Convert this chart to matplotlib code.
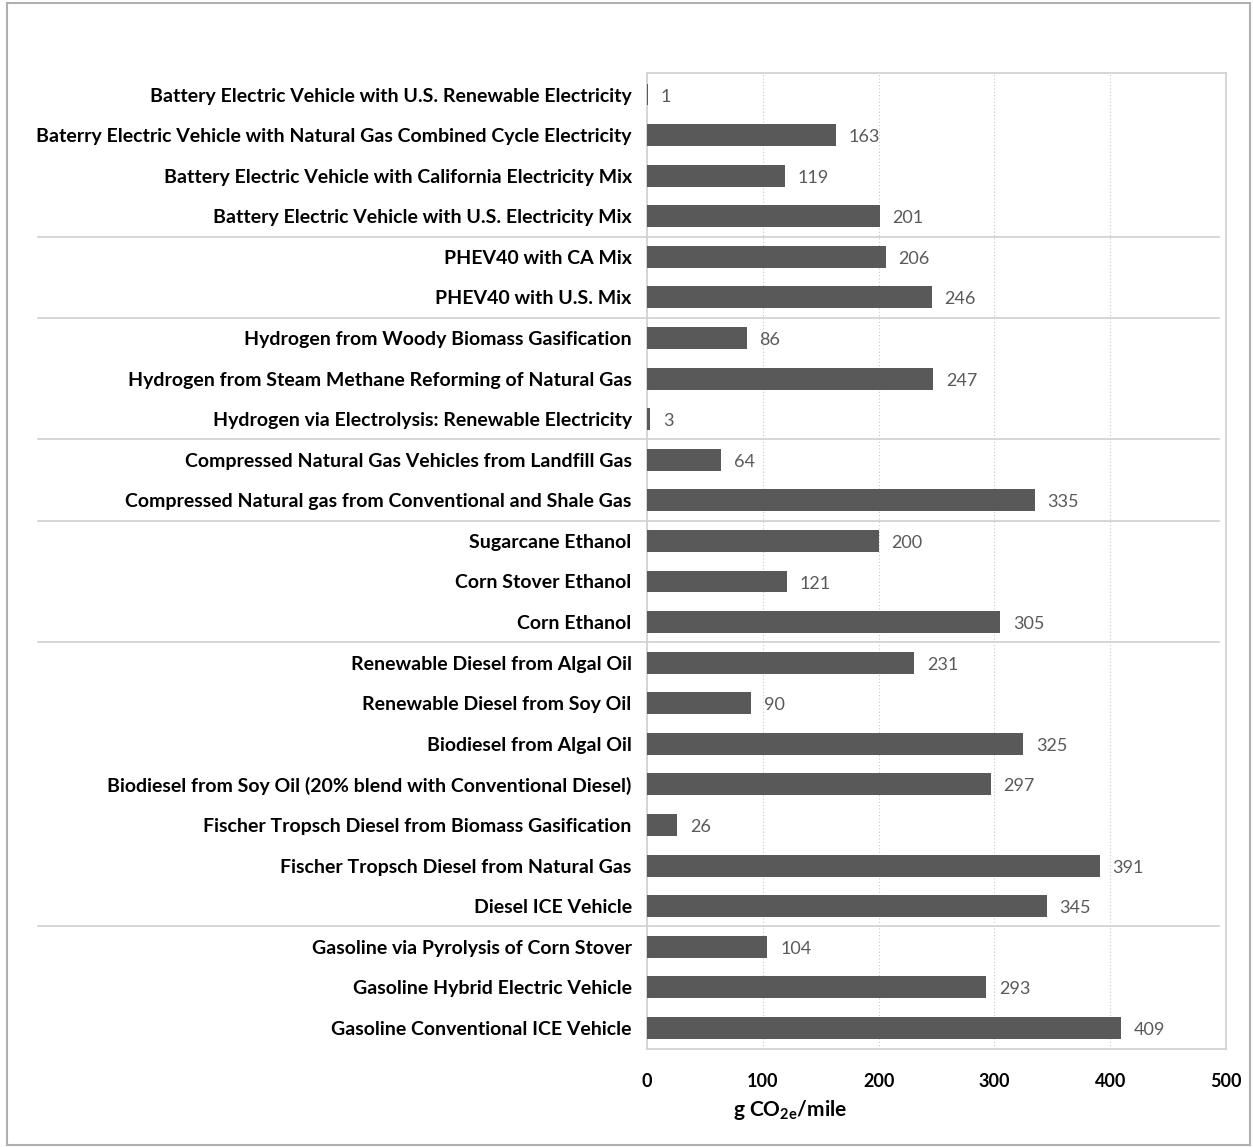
import matplotlib.pyplot as plt
import matplotlib.transforms as mtransforms
from matplotlib.patches import Rectangle

labels = [
    "Battery Electric Vehicle with U.S. Renewable Electricity",
    "Baterry Electric Vehicle with Natural Gas Combined Cycle Electricity",
    "Battery Electric Vehicle with California Electricity Mix",
    "Battery Electric Vehicle with U.S. Electricity Mix",
    "PHEV40 with CA Mix",
    "PHEV40 with U.S. Mix",
    "Hydrogen from Woody Biomass Gasification",
    "Hydrogen from Steam Methane Reforming of Natural Gas",
    "Hydrogen via Electrolysis: Renewable Electricity",
    "Compressed Natural Gas Vehicles from Landfill Gas",
    "Compressed Natural gas from Conventional and Shale Gas",
    "Sugarcane Ethanol",
    "Corn Stover Ethanol",
    "Corn Ethanol",
    "Renewable Diesel from Algal Oil",
    "Renewable Diesel from Soy Oil",
    "Biodiesel from Algal Oil",
    "Biodiesel from Soy Oil (20% blend with Conventional Diesel)",
    "Fischer Tropsch Diesel from Biomass Gasification",
    "Fischer Tropsch Diesel from Natural Gas",
    "Diesel ICE Vehicle",
    "Gasoline via Pyrolysis of Corn Stover",
    "Gasoline Hybrid Electric Vehicle",
    "Gasoline Conventional ICE Vehicle",
]
values = [1, 163, 119, 201, 206, 246, 86, 247, 3, 64, 335, 200, 121, 305,
          231, 90, 325, 297, 26, 391, 345, 104, 293, 409]
# group sizes, top to bottom (separator lines drawn between groups)
group_sizes = [4, 2, 3, 2, 3, 7, 3]
xticks = [0, 100, 200, 300, 400, 500]

plt.rcParams["font.family"] = ["Lato", "DejaVu Sans"]

fig = plt.figure(figsize=(12.53, 11.47), dpi=100)
ax = fig.add_axes([647 / 1253, 1 - 1049 / 1147, 579 / 1253, 976 / 1147])

ypos = list(range(len(labels)))
ax.barh(ypos, values, height=0.54, color="#595959", zorder=3)

for y, v in zip(ypos, values):
    ax.text(v + 11, y + 0.05, str(v), va="center", ha="left", fontsize=13,
            color="#595959", zorder=4)

ax.set_xlim(0, 500)
ax.set_ylim(len(labels) - 0.48, -0.53)
ax.set_xticks(xticks)
ax.set_xticklabels([str(t) for t in xticks], fontsize=13, fontweight="bold")
ax.set_yticks(ypos)
ax.set_yticklabels(labels, fontsize=14, fontweight="bold")
ax.tick_params(axis="both", length=0)
ax.tick_params(axis="y", pad=11)
ax.tick_params(axis="x", pad=17)

ax.grid(axis="x", linestyle=(0, (1, 2)), color="#c8c8c8", linewidth=0.8, zorder=0)
for s in ax.spines.values():
    s.set_color("#d0d0d0")
    s.set_linewidth(1.2)

# separators between groups
trans = mtransforms.blended_transform_factory(fig.transFigure, ax.transData)
pos = 0
for g in group_sizes[:-1]:
    pos += g
    ax.plot([38 / 1253, 1219 / 1253], [pos - 0.5, pos - 0.5], transform=trans,
            color="#d0d0d0", linewidth=1.2, clip_on=False, zorder=2)

fig.text(790 / 1253, 1 - 1110 / 1147, "g CO$_{\\mathregular{2e}}$/mile",
         ha="center", va="center", fontsize=15, fontweight="bold")

fig.patches.append(Rectangle((7 / 1253, 2 / 1147), 1243 / 1253, 1142 / 1147,
                             transform=fig.transFigure, fill=False,
                             edgecolor="#b0b0b0", linewidth=1.5))

fig.savefig("out.png", dpi=100)
